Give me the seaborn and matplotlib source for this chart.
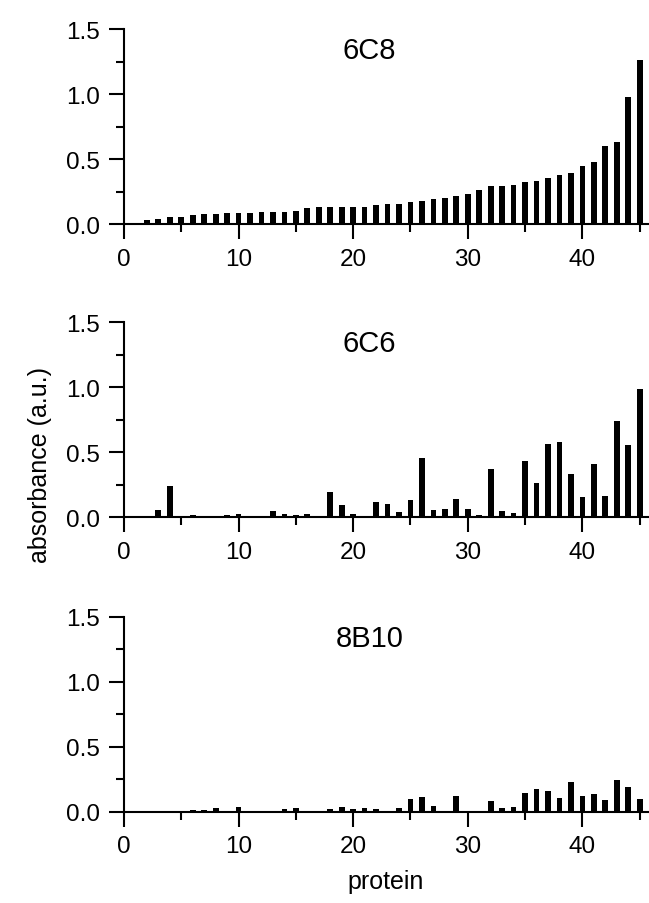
import matplotlib
matplotlib.use("Agg")
import matplotlib.pyplot as plt
from matplotlib.ticker import MultipleLocator
import seaborn as sns
import pandas as pd

# values
protein_6c8 = list(range(2, 46))
absorb_6c8 = [0.030, 0.042, 0.057, 0.056, 0.072, 0.077, 0.077, 0.082, 0.082, 0.083,
              0.090, 0.090, 0.091, 0.097, 0.120, 0.128, 0.128, 0.133, 0.133, 0.134,
              0.143, 0.154, 0.155, 0.172, 0.179, 0.192, 0.197, 0.215, 0.233, 0.264,
              0.295, 0.296, 0.303, 0.326, 0.331, 0.356, 0.374, 0.390, 0.446, 0.479,
              0.597, 0.633, 0.979, 1.264]

protein = list(range(1, 46))
absorb_6c6 = [0, 0, 0.053, 0.237, 0, 0.019, 0, 0.008, 0.018, 0.027,
              0.012, 0.013, 0.051, 0.025, 0.019, 0.028, 0, 0.197, 0.092, 0.023,
              0, 0.114, 0.105, 0.038, 0.136, 0.456, 0.054, 0.067, 0.141, 0.067,
              0.020, 0.369, 0.046, 0.033, 0.433, 0.264, 0.564, 0.577, 0.336, 0.156,
              0.410, 0.167, 0.744, 0.556, 0.987]
absorb_8b10 = [0, 0, 0.008, 0, 0, 0.013, 0.013, 0.026, 0, 0.036,
               0.008, 0, 0, 0.020, 0.026, 0, 0, 0.018, 0.036, 0.018,
               0.026, 0.018, 0.008, 0.026, 0.095, 0.113, 0.041, 0, 0.118, 0,
               0, 0.079, 0.031, 0.036, 0.144, 0.177, 0.159, 0.103, 0.226, 0.123,
               0.136, 0.090, 0.241, 0.187, 0.097]

panels = [("6C8", protein_6c8, absorb_6c8),
          ("6C6", protein, absorb_6c6),
          ("8B10", protein, absorb_8b10)]

sns.set_style("ticks")
plt.rcParams['font.family'] = ['Liberation Sans', 'DejaVu Sans']
plt.rcParams['text.color'] = 'black'
plt.rcParams['axes.labelcolor'] = 'black'

fig = plt.figure(figsize=(6.49, 9.04), dpi=100)
left, width, height = 0.191, 0.807, 0.2157
bottoms = [0.7511, 0.4267, 0.1010]

axes = []
for (name, xs, ys), bot in zip(panels, bottoms):
    ax = fig.add_axes([left, bot, width, height])
    df = pd.DataFrame({'protein': xs, 'absorbance': ys})
    sns.barplot(data=df, x='protein', y='absorbance', native_scale=True,
                color='black', width=0.5, linewidth=0, errorbar=None, ax=ax)
    ax.set_xlim(0, 45.7)
    ax.set_ylim(0, 1.5)
    ax.xaxis.set_major_locator(MultipleLocator(10))
    ax.xaxis.set_minor_locator(MultipleLocator(5))
    ax.yaxis.set_major_locator(MultipleLocator(0.5))
    ax.yaxis.set_minor_locator(MultipleLocator(0.25))
    ax.yaxis.set_major_formatter(matplotlib.ticker.FormatStrFormatter('%.1f'))
    ax.tick_params(which='major', length=11, width=1.5, direction='out',
                   labelsize=17.5, pad=6, color='black', labelcolor='black')
    ax.tick_params(which='minor', length=5.5, width=1.5, direction='out', color='black')
    for s in ['top', 'right']:
        ax.spines[s].set_visible(False)
    for s in ['left', 'bottom']:
        ax.spines[s].set_linewidth(1.5)
        ax.spines[s].set_color('black')
    ax.set_xlabel('')
    ax.set_ylabel('')
    ax.text(21.4, 1.34, name, ha='center', va='center', fontsize=21)
    axes.append(ax)

axes[1].set_ylabel('absorbance (a.u.)', fontsize=18, color='black')
axes[1].yaxis.set_label_coords(-0.160, 0.273)
axes[1].yaxis.label.set_verticalalignment('center')

axes[2].set_xlabel('protein', fontsize=18, color='black')
axes[2].xaxis.set_label_coords(0.5, -0.355)
axes[2].xaxis.label.set_verticalalignment('center')

fig.savefig('out.png', dpi=100, facecolor='white')
